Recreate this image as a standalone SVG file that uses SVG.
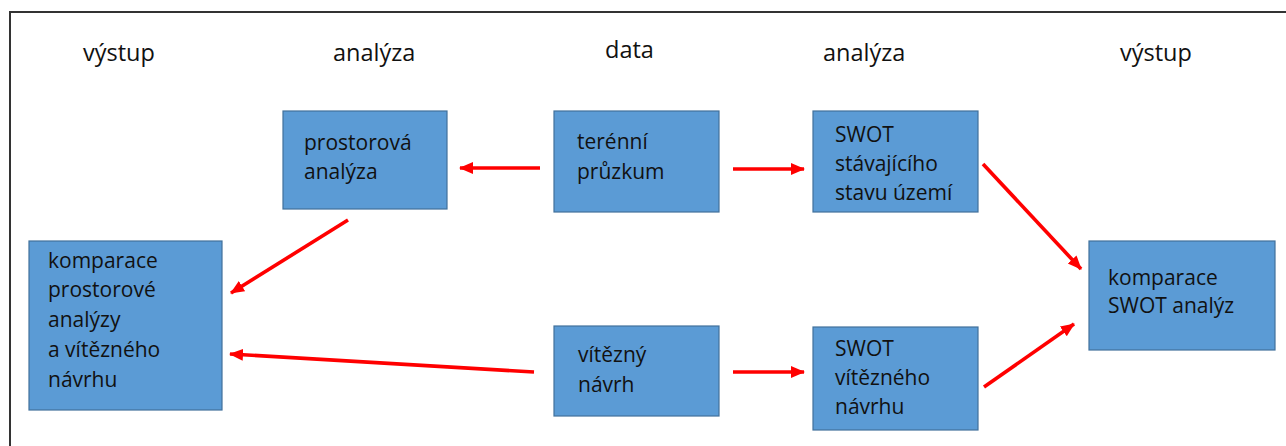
<svg xmlns="http://www.w3.org/2000/svg" width="1286" height="446" viewBox="0 0 1286 446">
  <style>
    .box { fill: #5b9bd5; stroke: #41719c; stroke-width: 1.2; }
    .lbl { font-family: "Open Sans", "Noto Sans", "Liberation Sans", sans-serif; font-size: 21px; fill: #111; }
    .hdr { font-family: "Open Sans", "Noto Sans", "Liberation Sans", sans-serif; font-size: 23.5px; fill: #111; }
    .arrow { stroke: #f00; stroke-width: 3.6; fill: none; marker-end: url(#head); }
  </style>
  <defs>
    <marker id="head" markerUnits="userSpaceOnUse" markerWidth="14" markerHeight="14" viewBox="0 0 14 14" refX="13" refY="7" orient="auto">
      <path d="M0,1 L14,7 L0,13 Z" fill="#f00"/>
    </marker>
  </defs>

  <rect width="1286" height="446" fill="#fff"/>
  <!-- frame -->
  <path d="M10,446 V12 H1286" fill="none" stroke="#333" stroke-width="2"/>

  <!-- column headings -->
  <g id="headings">
    <text class="hdr" x="83" y="61">výstup</text>
    <text class="hdr" x="333" y="61">analýza</text>
    <text class="hdr" x="605" y="58">data</text>
    <text class="hdr" x="823" y="61">analýza</text>
    <text class="hdr" x="1120" y="61">výstup</text>
  </g>

  <g id="prostorova-analyza">
    <rect class="box" x="283" y="111" width="164" height="98"/>
    <text class="lbl" x="304" y="150">prostorová</text>
    <text class="lbl" x="304" y="179">analýza</text>
  </g>

  <g id="terenni-pruzkum">
    <rect class="box" x="554" y="111" width="165" height="101"/>
    <text class="lbl" x="577" y="149">terénní</text>
    <text class="lbl" x="577" y="179">průzkum</text>
  </g>

  <g id="swot-stavajici">
    <rect class="box" x="813" y="111" width="165" height="101"/>
    <text class="lbl" x="835" y="142">SWOT</text>
    <text class="lbl" x="835" y="171">stávajícího</text>
    <text class="lbl" x="835" y="200">stavu území</text>
  </g>

  <g id="komparace-prostorove">
    <rect class="box" x="29" y="241" width="193" height="169"/>
    <text class="lbl" x="48" y="268">komparace</text>
    <text class="lbl" x="48" y="297">prostorové</text>
    <text class="lbl" x="48" y="327">analýzy</text>
    <text class="lbl" x="48" y="357">a vítězného</text>
    <text class="lbl" x="48" y="387">návrhu</text>
  </g>

  <g id="vitezny-navrh">
    <rect class="box" x="554" y="326" width="165" height="90"/>
    <text class="lbl" x="578" y="362">vítězný</text>
    <text class="lbl" x="578" y="392">návrh</text>
  </g>

  <g id="swot-vitezny">
    <rect class="box" x="813" y="327" width="165" height="103"/>
    <text class="lbl" x="835" y="356">SWOT</text>
    <text class="lbl" x="835" y="385">vítězného</text>
    <text class="lbl" x="835" y="414">návrhu</text>
  </g>

  <g id="komparace-swot">
    <rect class="box" x="1089" y="241" width="186" height="109"/>
    <text class="lbl" x="1108" y="285">komparace</text>
    <text class="lbl" x="1108" y="313">SWOT analýz</text>
  </g>

  <!-- connectors -->
  <g id="connectors">
    <line class="arrow" x1="540" y1="168" x2="460" y2="168"/>
    <line class="arrow" x1="733" y1="169" x2="804" y2="169"/>
    <line class="arrow" x1="983" y1="164" x2="1081" y2="269"/>
    <line class="arrow" x1="984" y1="387" x2="1074" y2="324"/>
    <line class="arrow" x1="733" y1="372" x2="804" y2="372"/>
    <line class="arrow" x1="534" y1="372" x2="230" y2="354"/>
    <line class="arrow" x1="348" y1="220" x2="231" y2="293"/>
  </g>
</svg>
